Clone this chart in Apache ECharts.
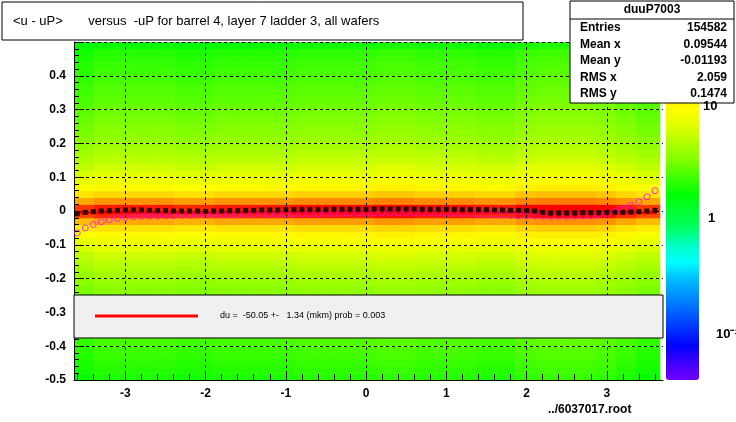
<!DOCTYPE html>
<html>
<head>
<meta charset="utf-8">
<script src="https://cdn.jsdelivr.net/npm/echarts@6/dist/echarts.min.js"></script>
<style>html,body{margin:0;padding:0;background:#fff}#chart{width:736px;height:422px}</style>
</head>
<body>
<div id="chart"></div>
<script>
// y bins of 0.02 from -0.5 to 0.5, counts per bin (bottom to top)
const rowCounts = [2,2.1,2.2,2.3,2.4,2.5,2.6,2.7,2.8,3,3.1,3.3,3.5,3.7,
  4,4.4,4.8,5.3,6,7,8,10,13,18,32,
  34,20,14,10,8,7,6,5.3,4.8,4.3,4,
  3.7,3.5,3.3,3.1,3,2.8,2.7,2.6,2.5,2.4,2.3,2.2,2.1,1.8];
// x bins of 0.25 starting at -3.64, relative density
const colFactor = [0.9,1,1,1,1,0.95,0.95,1,1,1,1,1.05,1.05,1.05,1.05,1.1,1.1,1.05,1.05,1.05,1,1,1.1,1.15,1.15,1.15,1.1,1,0.9];
const xTicks = [-3, -2, -1, 0, 1, 2, 3];
// profile points at x = -3.6 .. 3.6 step 0.1
const meanY = [-0.008,-0.004,-0.002,0,0.001,0.002,0.003,0.003,0.003,0.002,
  0.001,0.001,0,0,0,0,-0.001,0,0,0.001,
  0.001,0.002,0.002,0.003,0.003,0.003,0.004,0.004,0.004,0.004,
  0.004,0.004,0.005,0.005,0.005,0.005,0.005,0.006,0.006,0.006,
  0.006,0.006,0.006,0.005,0.005,0.005,0.005,0.005,0.004,0.004,
  0.004,0.004,0.003,0.003,0.002,0.002,0.001,0,-0.004,-0.006,
  -0.006,-0.006,-0.006,-0.005,-0.005,-0.005,-0.004,-0.004,-0.004,-0.003,
  -0.002,0,0.002];
const fitY = [-0.065,-0.05,-0.04,-0.032,-0.026,-0.022,-0.019,-0.017,-0.016,-0.015,
  -0.015,-0.014,-0.014,-0.013,-0.013,-0.012,-0.012,-0.012,-0.011,-0.011,
  -0.011,-0.01,-0.01,-0.01,-0.009,-0.009,-0.009,-0.008,-0.008,-0.008,
  -0.008,-0.007,-0.007,-0.007,-0.006,-0.006,-0.006,-0.006,-0.005,-0.005,
  -0.005,-0.005,-0.005,-0.005,-0.005,-0.006,-0.006,-0.006,-0.007,-0.008,
  -0.009,-0.01,-0.011,-0.012,-0.013,-0.014,-0.014,-0.015,-0.015,-0.016,
  -0.016,-0.016,-0.015,-0.015,-0.014,-0.012,-0.008,-0.002,0.006,0.016,
  0.028,0.042,0.06];
const fitLine = [[-3.6, -0.005], [3.62, -0.005]];
const palette = ['#7000ff','#4000ff','#0000ff','#0030ff','#0060ff','#0090ff','#00c0ff','#00ffff','#00ffc0','#00ff60','#00ff30','#00ff00','#40ff00','#80ff00','#b0ff00','#e0ff00','#ffff00','#ffe000','#ffa000','#ff6000','#ff0000'];

const cells = [];
rowCounts.forEach((c, i) => {
  colFactor.forEach((f, j) => {
    const x0 = -3.64 + j * 0.25;
    const x1 = j === colFactor.length - 1 ? 3.66 : x0 + 0.25;
    cells.push([x0, x1, -0.5 + i * 0.02, -0.48 + i * 0.02, Math.log10(c * f)]);
  });
});
const prof = meanY.map((v, i) => [-3.6 + i * 0.1, v]);
const fit = fitY.map((v, i) => [-3.6 + i * 0.1, v]);
const xMinor = [];
for (let k = -18; k <= 18; k++) xMinor.push(k / 5);

const chart = echarts.init(document.getElementById('chart'));
const txt = {fontFamily: 'Liberation Sans', fontSize: 12, fontWeight: 'bold', fill: '#000'};
chart.setOption({
  animation: false,
  grid: {left: 74, right: 73, top: 42, bottom: 42},
  xAxis: {type: 'value', min: -3.64, max: 3.7, z: 10,
    axisLine: {onZero: false, lineStyle: {color: '#000'}},
    axisTick: {inside: true, length: 6, customValues: xMinor, lineStyle: {color: '#000'}},
    axisLabel: {color: '#000', fontFamily: 'Liberation Sans', fontSize: 12, fontWeight: 'bold', margin: 8,
      customValues: xTicks, formatter: v => String(Math.round(v))},
    splitLine: {show: false}},
  yAxis: {type: 'value', min: -0.5, max: 0.5, interval: 0.1, z: 10,
    axisLine: {onZero: false, lineStyle: {color: '#000'}},
    axisTick: {inside: true, length: 10, lineStyle: {color: '#000'}},
    minorTick: {show: true, splitNumber: 5, length: 5, lineStyle: {color: '#000'}},
    axisLabel: {color: '#000', fontFamily: 'Liberation Sans', fontSize: 12, fontWeight: 'bold',
      formatter: v => v === 0.5 ? '' : (Math.abs(v) < 1e-9 ? '0' : String(Math.round(v * 10) / 10))},
    splitLine: {show: true, lineStyle: {color: '#000', type: [3, 3]}}},
  visualMap: {type: 'continuous', min: -1.39, max: 1.57, dimension: 4, seriesIndex: 0,
    calculable: false, showLabel: false, text: ['', ''], inRange: {color: palette},
    right: 37, top: 42, itemWidth: 33, itemHeight: 338, orient: 'vertical', padding: 0},
  series: [
    {type: 'custom', data: cells, encode: {x: [0, 1], y: [2, 3]}, clip: true,
      renderItem: (params, api) => {
        const p0 = api.coord([api.value(0), api.value(3)]);
        const p1 = api.coord([api.value(1), api.value(2)]);
        return {type: 'rect', shape: {x: p0[0], y: p0[1], width: p1[0] - p0[0] + 0.5, height: p1[1] - p0[1] + 0.5},
          style: {fill: api.visual('color')}};
      }, z: 1},
    {type: 'line', data: fitLine, symbol: 'none', lineStyle: {color: '#ff0000', width: 3}, z: 11,
      markLine: {silent: true, symbol: 'none', label: {show: false},
        lineStyle: {color: '#000', type: [3, 3], width: 1},
        data: xTicks.map(v => ({xAxis: v}))}},
    {type: 'scatter', data: fit, symbol: 'circle', symbolSize: 6,
      itemStyle: {color: 'transparent', borderColor: '#ff00ff', borderWidth: 1}, z: 12},
    {type: 'scatter', data: prof, symbol: 'rect', symbolSize: 5, itemStyle: {color: '#000'}, z: 13}
  ],
  graphic: [
    {type: 'rect', shape: {x: 74, y: 295, width: 589, height: 43}, style: {fill: '#f0f0f0', stroke: '#000', lineWidth: 1}, z: 100},
    {type: 'line', shape: {x1: 95, y1: 316, x2: 198, y2: 316}, style: {stroke: '#ff0000', lineWidth: 3}, z: 101},
    {type: 'text', x: 220, y: 311, style: {text: 'du =  -50.05 +-   1.34 (mkm) prob = 0.003', fontFamily: 'Liberation Sans', fontSize: 9, fill: '#000'}, z: 101},
    {type: 'rect', shape: {x: 2, y: 2, width: 521, height: 38}, style: {fill: '#fff', stroke: '#000', lineWidth: 1}, z: 100},
    {type: 'text', x: 13, y: 15, style: {text: '<u - uP>       versus  -uP for barrel 4, layer 7 ladder 3, all wafers', fontFamily: 'Liberation Sans', fontSize: 13, fill: '#000'}, z: 101},
    {type: 'rect', shape: {x: 570, y: 1, width: 164, height: 102}, style: {fill: '#fff', stroke: '#000', lineWidth: 1}, z: 100},
    {type: 'line', shape: {x1: 570, y1: 19, x2: 734, y2: 19}, style: {stroke: '#000', lineWidth: 1}, z: 101},
    {type: 'text', x: 652, y: 4, style: Object.assign({}, txt, {text: 'duuP7003', align: 'center'}), z: 101},
    ...[['Entries', '154582'], ['Mean x', '0.09544'], ['Mean y', '-0.01193'], ['RMS x', '2.059'], ['RMS y', '0.1474']].flatMap((r, i) => [
      {type: 'text', x: 580, y: 22 + i * 16.5, style: Object.assign({}, txt, {text: r[0]}), z: 101},
      {type: 'text', x: 727, y: 22 + i * 16.5, style: Object.assign({}, txt, {text: r[1], align: 'right'}), z: 101}
    ]),
    {type: 'text', x: 703, y: 100, style: Object.assign({}, txt, {text: '10', fontSize: 13}), z: 101},
    {type: 'text', x: 708, y: 212, style: Object.assign({}, txt, {text: '1', fontSize: 13}), z: 101},
    {type: 'text', x: 716, y: 328, style: Object.assign({}, txt, {text: '10⁻¹', fontSize: 13}), z: 101},
    {type: 'text', x: 548, y: 404, style: Object.assign({}, txt, {text: '../6037017.root'}), z: 101}
  ]
});
</script>
</body>
</html>
